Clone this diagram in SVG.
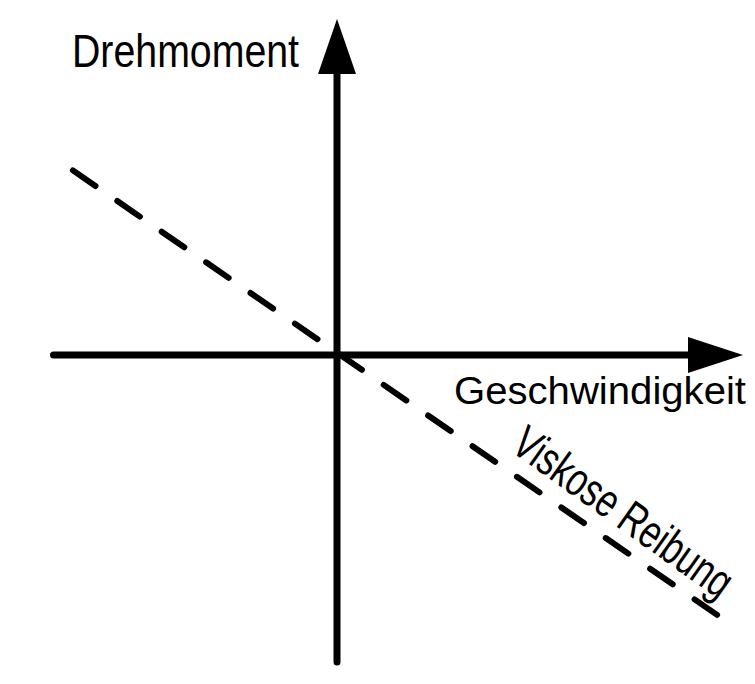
<svg xmlns="http://www.w3.org/2000/svg" width="755" height="684" viewBox="0 0 755 684">
  <style>
    .axis { stroke: #000; stroke-width: 7; stroke-linecap: round; fill: none; }
    .head { fill: #000; stroke: none; }
    .dash { stroke: #000; stroke-width: 6; stroke-linecap: round; fill: none; stroke-dasharray: 27.4 26.55; }
    .lbl { font-family: "Liberation Sans", Arial, sans-serif; fill: #000; }
  </style>
  <rect width="755" height="684" fill="#fff"/>
  <g id="connectors">
    <line id="x-axis" class="axis" x1="53.5" y1="355" x2="692" y2="355"/>
    <polygon class="head" points="688,337 743,355 688,373"/>
    <line id="y-axis" class="axis" x1="337" y1="662" x2="337" y2="70"/>
    <polygon class="head" points="318,74 337,19 356,74"/>
    <line id="viscous-line" class="dash" x1="72.9" y1="170.4" x2="717.1" y2="614.9"/>
  </g>
  <g id="label-drehmoment">
    <text class="lbl" x="72" y="67" font-size="47" textLength="227" lengthAdjust="spacingAndGlyphs">Drehmoment</text>
  </g>
  <g id="label-geschwindigkeit">
    <text class="lbl" x="454" y="404" font-size="39" textLength="292" lengthAdjust="spacingAndGlyphs">Geschwindigkeit</text>
  </g>
  <g id="label-viskose">
    <text class="lbl" x="0" y="0" font-size="47" textLength="258" lengthAdjust="spacingAndGlyphs" transform="translate(509,450) rotate(35.5)">Viskose Reibung</text>
  </g>
</svg>
